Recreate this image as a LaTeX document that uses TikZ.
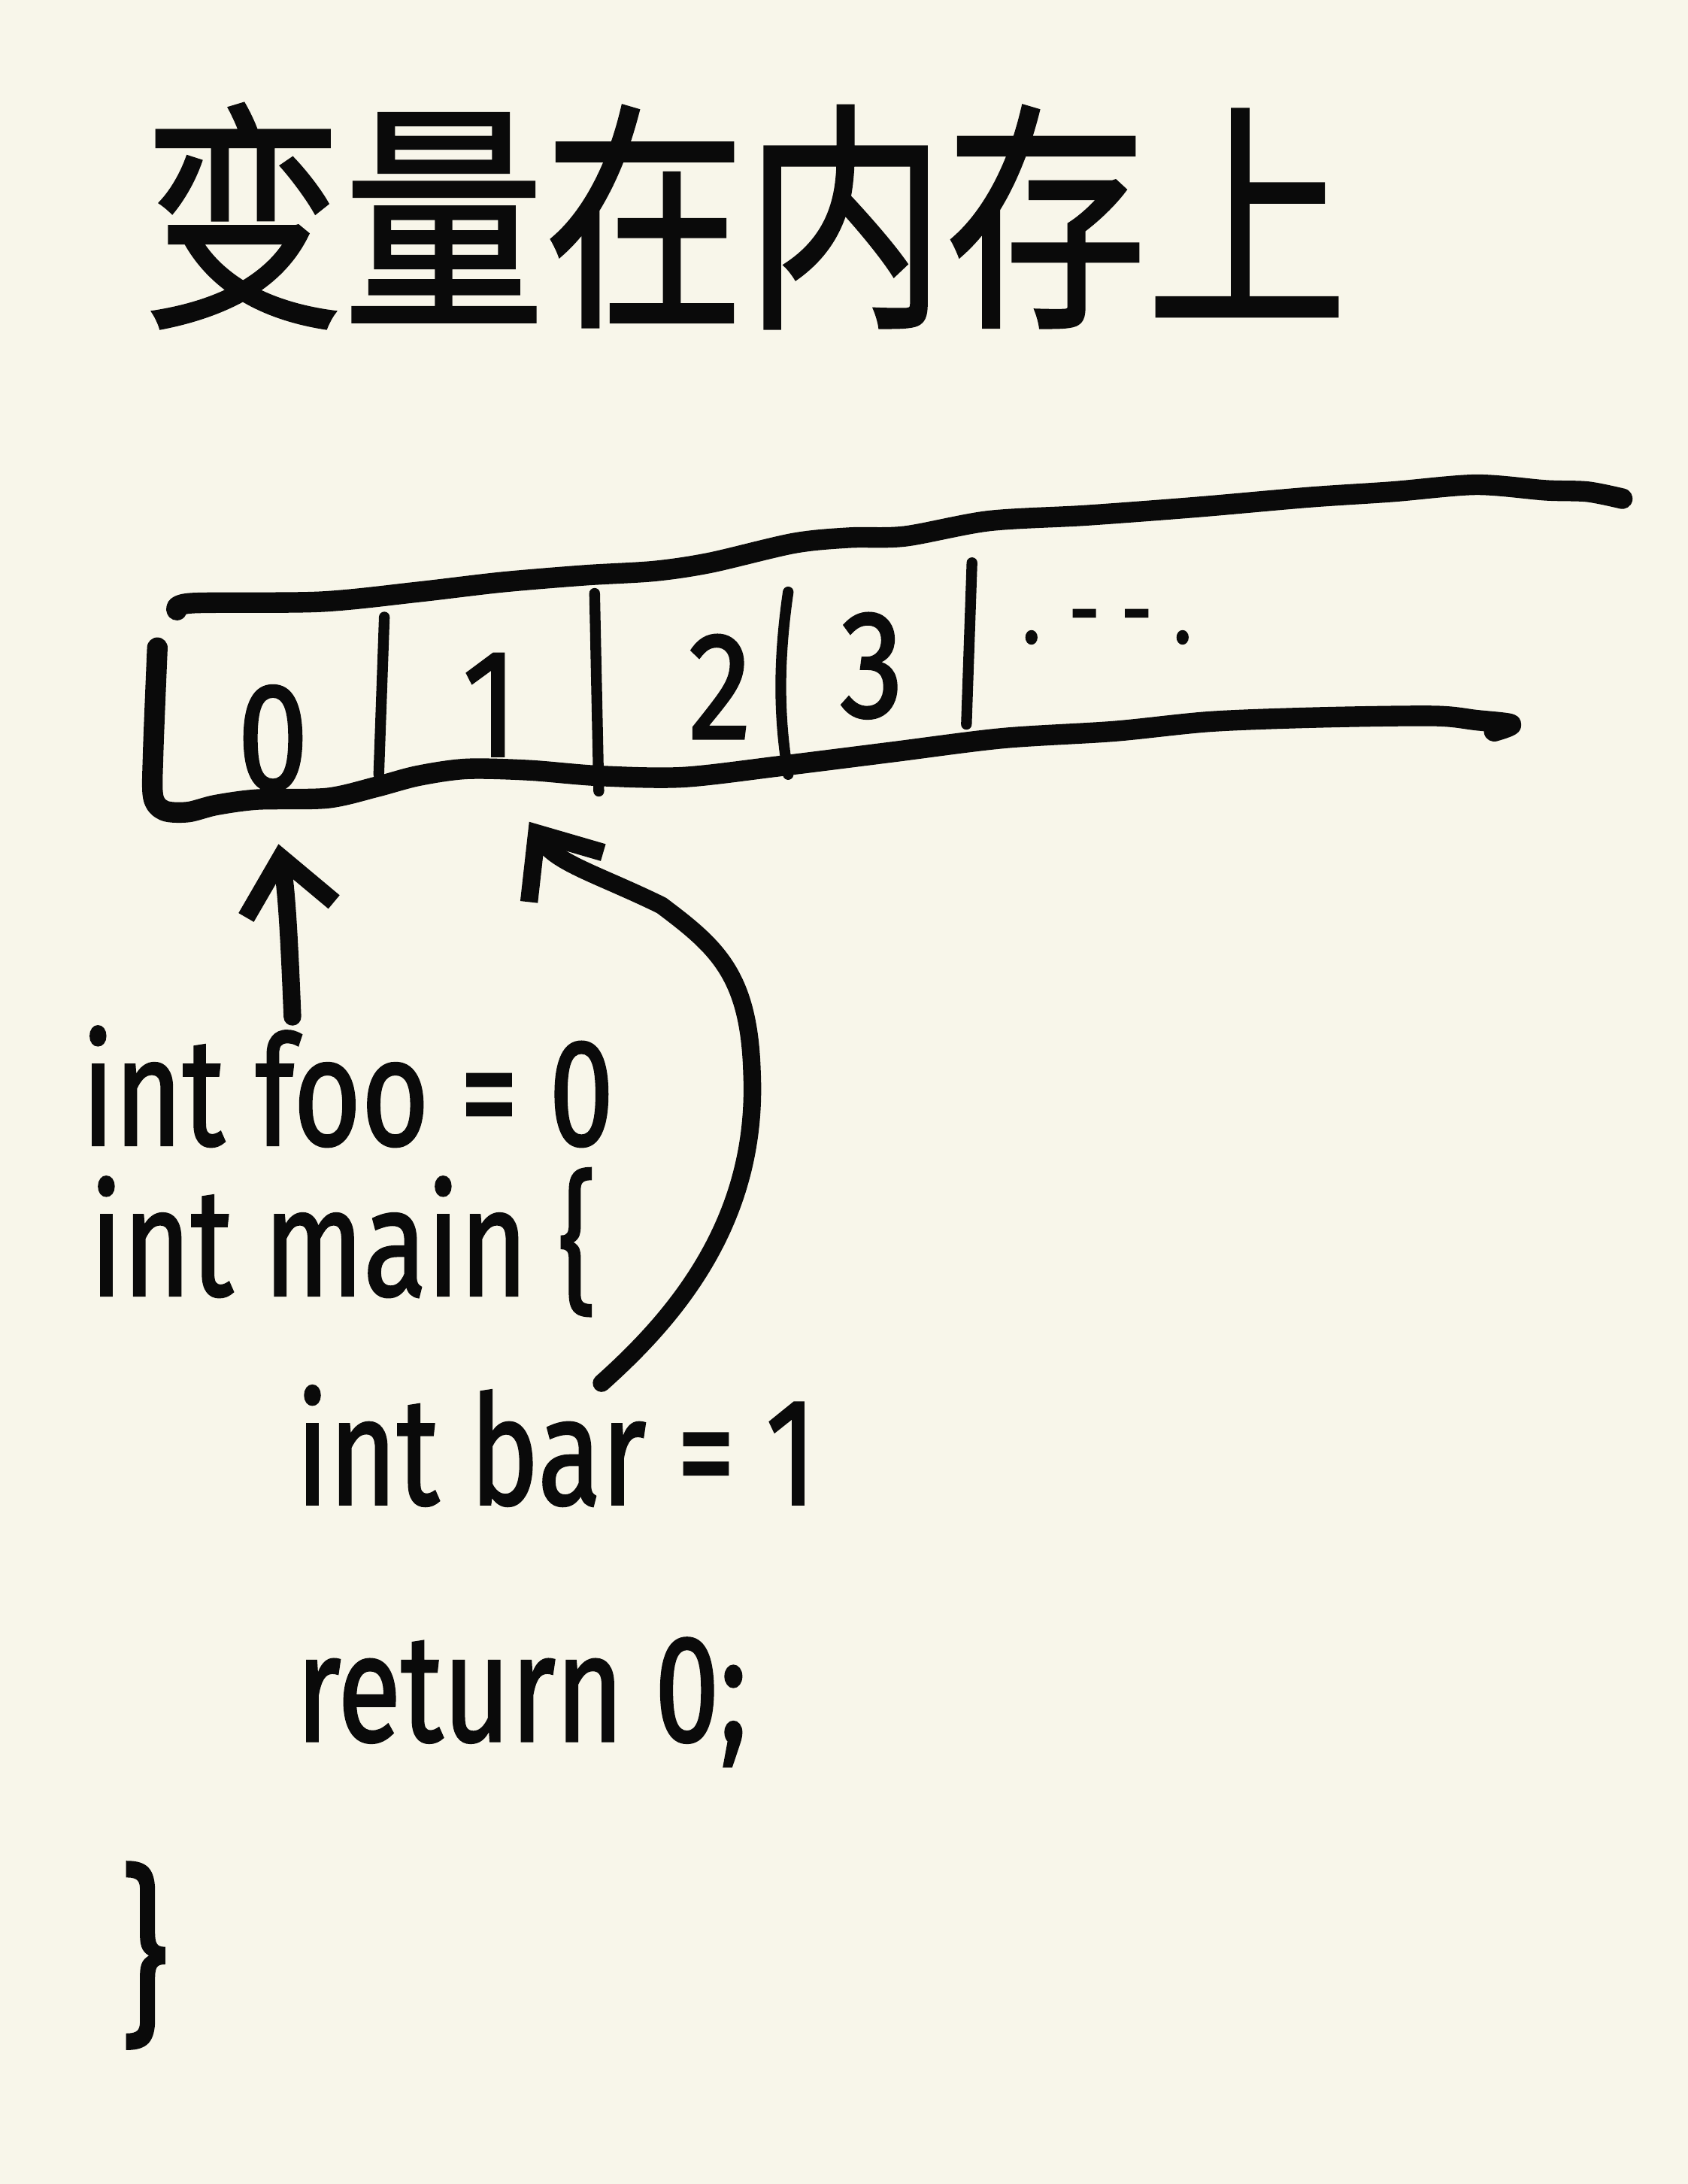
\documentclass[tikz,border=0pt]{standalone}
\usepackage{fontspec}
\setmainfont{Fira Sans}
\newfontfamily\hand{Fira Sans}[FakeBold=1.6]
\newfontfamily\cjk{Noto Sans CJK SC}[FakeBold=1.4]
\usetikzlibrary{arrows.meta}
\definecolor{paper}{HTML}{F8F6EA}
\definecolor{pen}{HTML}{0A0A0A}

\begin{document}
\begin{tikzpicture}[x=0.01cm,y=-0.01cm,pen,
  ink/.style={line width=4.2pt,line cap=round,line join=round},
  divider/.style={line width=2.2pt,line cap=round},
  code/.style={anchor=base west,inner sep=0pt,font=\hand\fontsize{27}{30}\selectfont,xscale=0.88,yscale=1.15},
  digit/.style={inner sep=0pt,font=\hand\fontsize{26}{30}\selectfont,yscale=1.2},
  link/.style={ink,line width=3.6pt,-{Straight Barb[length=3.8mm,width=6.4mm]}}]
  \fill[paper] (0,0) rectangle (1212,1568);
  \useasboundingbox (0,0) rectangle (1212,1568);
  % title
  \node[font=\cjk\fontsize{41}{44}\selectfont,yscale=1.2,inner sep=0pt] (title) at (535,155) {变量在内存上};
  % memory strip
  \draw[ink] plot[smooth,tension=0.5] coordinates {(127,438) (138,433) (230,432) (300,425) (360,418)
    (420,413) (470,410) (510,404) (570,390) (610,386) (650,385) (710,374) (780,370) (860,364)
    (940,357) (1000,353) (1060,348) (1110,352) (1140,353) (1165,358)};
  \draw[ink] plot[smooth,tension=0.5] coordinates {(113,465) (110,540) (110,572) (118,582) (135,583)
    (155,578) (185,574) (235,573) (270,565) (300,557) (335,552) (380,553) (430,557) (490,558)
    (560,550) (640,540) (720,530) (800,525) (870,518) (950,515) (1030,514) (1060,517) (1085,520) (1073,525)};
  \draw[divider] (276,443) -- (272,556);
  \draw[divider] (427,426) -- (430,568);
  \draw[divider] (566,425) .. controls (558,480) and (560,520) .. (566,556);
  \draw[divider] (698,404) -- (694,520);
  % cells
  \node[digit] (c0) at (196,530) {0};
  \node[digit] (c1) at (352,506) {1};
  \node[digit] (c2) at (517,493) {2};
  \node[digit] (c3) at (626,478) {3};
  \node[digit,font=\hand\fontsize{16}{18}\selectfont] (more) at (795,450) {. - - .};
  % code
  \node[code] (foo) at (58,822) {int foo = 0};
  \node[code] (mainfn) at (64,930) {int main \{};
  \node[code] (bar) at (212,1080) {int bar = 1};
  \node[code] (ret) at (212,1250) {return 0;};
  \node[code,font=\hand\fontsize{34}{36}\selectfont] (close) at (86,1452) {\}};
  % arrows
  \coordinate (foosrc) at (210,730);
  \coordinate (cell0) at (200,606);
  \coordinate (barsrc) at (432,993);
  \coordinate (cell1) at (380,590);
  \draw[link] (foosrc) .. controls (208,680) and (206,640) .. (cell0);
  \draw[link] (barsrc) .. controls (480,950) and (545,880) .. (540,770)
    .. controls (538,700) and (515,680) .. (475,650)
    .. controls (430,628) and (400,620) .. (cell1);
\end{tikzpicture}
\end{document}
